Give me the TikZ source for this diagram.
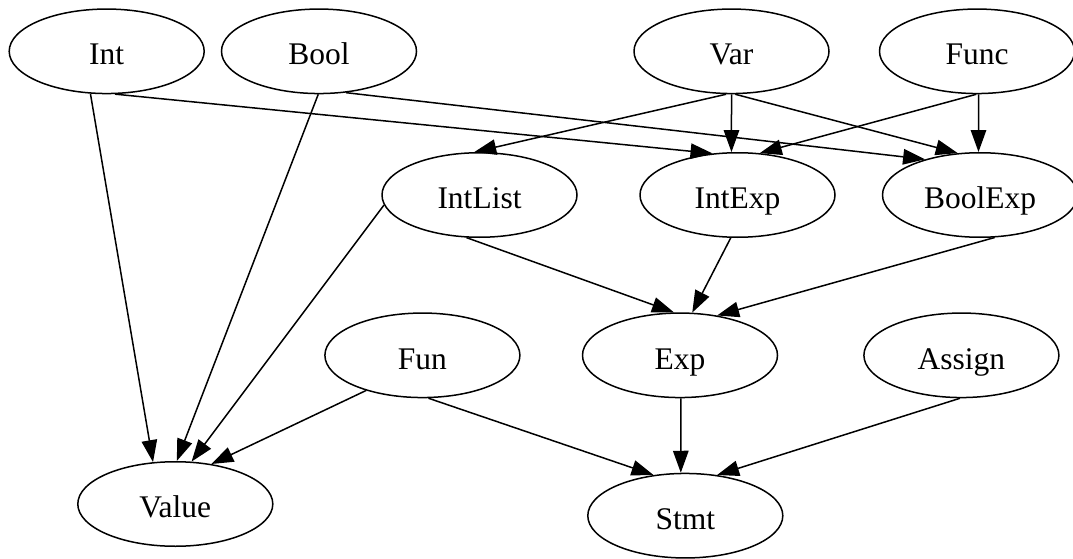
\documentclass[tikz,border=0pt]{standalone}
\usepackage{fontspec}
\setmainfont{Liberation Serif}
\usetikzlibrary{shapes.geometric,arrows.meta}
\tikzset{
  gnode/.style={draw=black, ellipse, line width=1.5pt, minimum width=195pt, minimum height=84.5pt,
    inner sep=0pt, text height=27.4pt, text depth=0pt,
    font=\fontsize{31.5}{36}\selectfont},
  gedge/.style={draw=black, line width=1.5pt, -{Triangle[length=22pt,width=15.5pt]}}
}
\begin{document}
\begin{tikzpicture}[x=1pt,y=-1pt]
\useasboundingbox (0,0) rectangle (1073,559);
\node[gnode] (int) at (106.7,51.3) {Int};
\node[gnode] (bool) at (319,51.3) {Bool};
\node[gnode] (var) at (731.5,51.3) {Var};
\node[gnode] (func) at (977,51.3) {Func};
\node[gnode] (intlist) at (479.5,195) {IntList};
\node[gnode] (intexp) at (737.5,195) {IntExp};
\node[gnode] (boolexp) at (980,195) {BoolExp};
\node[gnode] (fun) at (422.4,355.3) {Fun};
\node[gnode] (exp) at (680,355.3) {Exp};
\node[gnode] (assign) at (961.4,355.3) {Assign};
\node[gnode] (value) at (175.3,504) {Value};
\node[gnode] (stmt) at (685.3,515.7) {Stmt};
\path[gedge] (int.-111) -- (value.118);
\path[gedge] (int.-79) -- (intexp.121);
\path[gedge] (bool.-91) -- (value.88);
\path[gedge] (bool.-57) -- (boolexp.147);
\path[gedge] (var.-97) -- (intlist.97);
\path[gedge] (var.-90) -- (intexp.98);
\path[gedge] (var.-85) -- (boolexp.118);
\path[gedge] (func.-91) -- (intexp.62);
\path[gedge] (func.-88) -- (boolexp.92);
\path[gedge] (intlist.186) -- (value.69);
\path[gedge] (intlist.-107) -- (exp.98);
\path[gedge] (intexp.-99) -- (exp.74);
\path[gedge] (boolexp.-71) -- (exp.47);
\path[gedge] (fun.212) -- (value.48);
\path[gedge] (fun.-82) -- (stmt.128);
\path[gedge] (exp.-89) -- (stmt.96);
\path[gedge] (assign.-92) -- (stmt.52);
\end{tikzpicture}
\end{document}
